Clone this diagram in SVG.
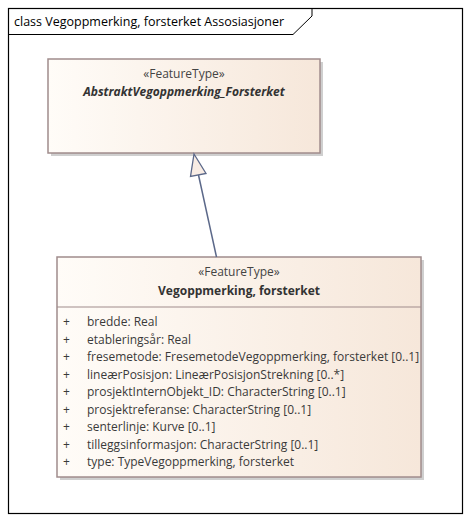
<svg xmlns="http://www.w3.org/2000/svg" width="471" height="523" viewBox="0 0 471 523">
<style>
text{font-family:"Open Sans","Noto Sans","Liberation Sans",sans-serif;fill:#333}
.title{font-size:12.5px;fill:#000}
.st{font-size:12px;fill:#444}
.nm{font-size:12px;font-weight:bold}
.at{font-size:12px;fill:#3a3a3a}
.box{fill:url(#g);stroke:#a08c8c;stroke-width:1.5}
.sh{fill:#cfcfcf}
.con{stroke:#5b6889;stroke-width:1.5;fill:none}
</style>
<defs>
<linearGradient id="g" x1="0" y1="0" x2="1" y2="0">
<stop offset="0" stop-color="#fffcf8"/>
<stop offset="1" stop-color="#f6e7da"/>
</linearGradient>
</defs>
<rect x="0" y="0" width="471" height="523" fill="#fff"/>
<g id="frame">
<rect x="8.5" y="8.5" width="454" height="505" fill="none" stroke="#000" stroke-width="1.2"/>
<path d="M8.5 34.5 H293 L312 16 V8.5" fill="none" stroke="#000" stroke-width="1"/>
<text class="title" x="14" y="26">class Vegoppmerking, forsterket Assosiasjoner</text>
</g>
<g id="abstrakt">
<rect class="sh" x="51" y="62" width="272" height="94"/>
<rect class="box" x="48" y="59" width="272" height="94"/>
<text class="st" x="184" y="78" text-anchor="middle">«FeatureType»</text>
<text class="nm" x="184" y="96" text-anchor="middle" font-style="italic">AbstraktVegoppmerking_Forsterket</text>
</g>
<g id="vegoppmerking">
<rect class="sh" x="60" y="260" width="364" height="220"/>
<rect class="box" x="57" y="257" width="364" height="220"/>
<line x1="57" y1="307" x2="421" y2="307" stroke="#a08c8c" stroke-width="1.2"/>
<text class="st" x="239" y="276" text-anchor="middle">«FeatureType»</text>
<text class="nm" x="239" y="295" text-anchor="middle">Vegoppmerking, forsterket</text>
<g class="at">
<text class="at" x="63" y="326">+</text><text class="at" x="87" y="326">bredde: Real</text>
<text class="at" x="63" y="343.5">+</text><text class="at" x="87" y="343.5">etableringsår: Real</text>
<text class="at" x="63" y="361">+</text><text class="at" x="87" y="361">fresemetode: FresemetodeVegoppmerking, forsterket [0..1]</text>
<text class="at" x="63" y="378.5">+</text><text class="at" x="87" y="378.5">lineærPosisjon: LineærPosisjonStrekning [0..*]</text>
<text class="at" x="63" y="396">+</text><text class="at" x="87" y="396">prosjektInternObjekt_ID: CharacterString [0..1]</text>
<text class="at" x="63" y="413.5">+</text><text class="at" x="87" y="413.5">prosjektreferanse: CharacterString [0..1]</text>
<text class="at" x="63" y="431">+</text><text class="at" x="87" y="431">senterlinje: Kurve [0..1]</text>
<text class="at" x="63" y="448.5">+</text><text class="at" x="87" y="448.5">tilleggsinformasjon: CharacterString [0..1]</text>
<text class="at" x="63" y="466">+</text><text class="at" x="87" y="466">type: TypeVegoppmerking, forsterket</text>
</g>
</g>
<g id="connectors">
<line class="con" x1="216.5" y1="257" x2="198.5" y2="175"/>
<polygon points="194,154 190.5,176.5 206,173.5" fill="#f8ece4" stroke="#5b6889" stroke-width="1.3"/>
</g>
</svg>
